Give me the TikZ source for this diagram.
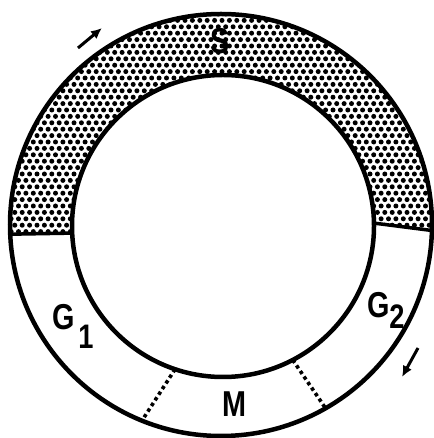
\documentclass[tikz,border=0pt]{standalone}
\usepackage{fontspec}
\setmainfont{Liberation Sans}
\newfontfamily\lblfont[FakeStretch=0.8]{Liberation Sans Bold}
\usetikzlibrary{calc,arrows.meta}
\begin{document}
\begin{tikzpicture}[x=1pt,y=1pt,
 ring/.style={line width=4.5pt},
 sep/.style={line width=3.5pt},
 dotsep/.style={line width=3.6pt, dash pattern=on 3.5pt off 3.2pt},
 lbl/.style={font=\lblfont\fontsize{36}{36}\selectfont, inner sep=0pt},
 sublbl/.style={font=\lblfont\fontsize{34}{34}\selectfont, inner sep=0pt},
 motion/.style={line width=3pt, -{Latex[length=11pt,width=10pt]}}]
\useasboundingbox (0,0) rectangle (433,438);
\coordinate (O) at (221,213);
\coordinate (I) at (223,212);
\begin{scope}
\clip (O) ++(-1.5:211) arc[start angle=-1.5,end angle=182.5,radius=211] -- ($(I)+(182.7:151)$) arc[start angle=182.7,end angle=1.1,radius=151] -- cycle;
\foreach \j in {0,...,38} {
  \foreach \i in {0,...,59} {
    \fill ({\i*7.4 + mod(\j,2)*3.7}, {200 + \j*6.4}) circle[radius=2.5];
  }
}
\end{scope}
\draw[ring] (O) circle[radius=211];
\draw[ring] (I) circle[radius=151];
\coordinate (sl1) at ($(O)+(182.5:211)$);
\coordinate (sl2) at ($(I)+(182.7:151)$);
\coordinate (sr1) at ($(O)+(-1.5:211)$);
\coordinate (sr2) at ($(I)+(1.1:151)$);
\draw[sep] (sl1) -- (sl2);
\draw[sep] (sr1) -- (sr2);
\coordinate (ml1) at ($(I)+(251.5:151)$);
\coordinate (ml2) at ($(O)+(248:211)$);
\coordinate (mr1) at ($(I)+(297.5:151)$);
\coordinate (mr2) at ($(O)+(299.7:211)$);
\draw[dotsep] (ml1) -- (ml2);
\draw[dotsep] (mr1) -- (mr2);
\node[lbl] (S) at (220,397) {S};
\node[lbl] (G1) at (64,121) {G};
\node[sublbl] (G1s) at (86,101) {1};
\node[lbl] (G2) at (379,133) {G};
\node[sublbl] (G2s) at (397,121) {2};
\node[lbl] (M) at (234,34) {M};
\coordinate (a1s) at (78,390);
\coordinate (a1e) at (102,410);
\coordinate (a2s) at (418,90);
\coordinate (a2e) at (402,61);
\draw[motion] (a1s) -- (a1e);
\draw[motion] (a2s) -- (a2e);
\end{tikzpicture}
\end{document}
